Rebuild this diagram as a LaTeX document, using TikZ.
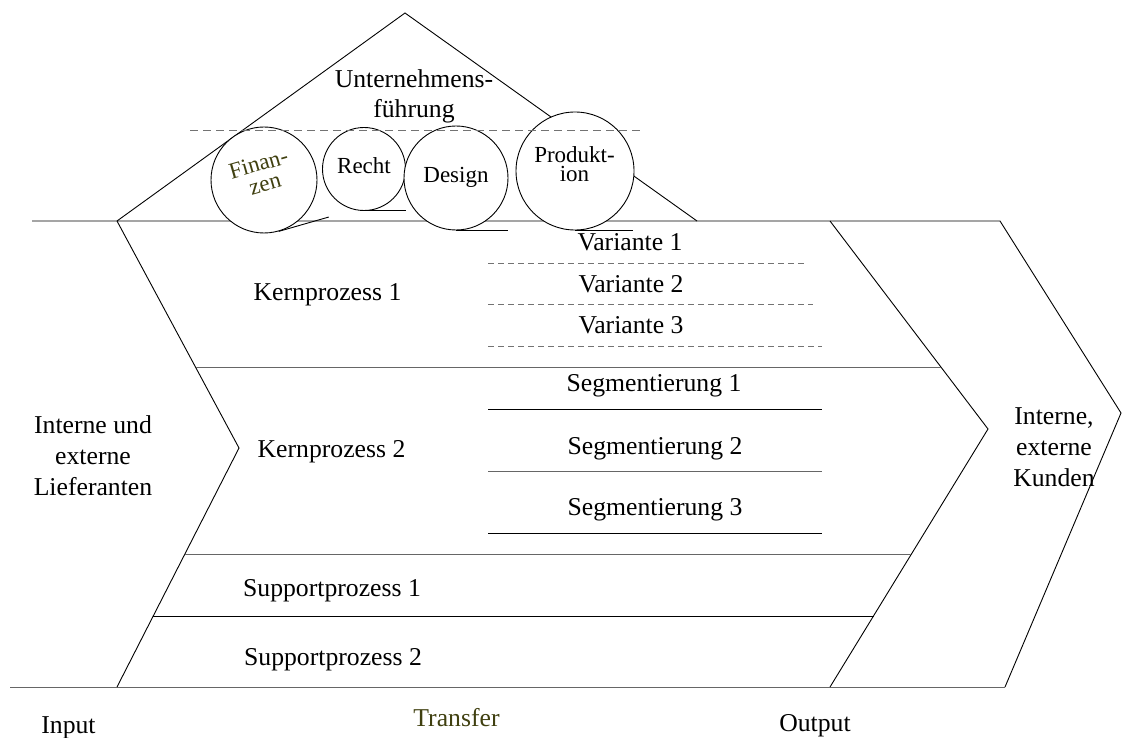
\documentclass[tikz,border=0pt]{standalone}
\usepackage{fontspec}
\setmainfont{Liberation Serif}
\definecolor{olivetext}{RGB}{64,64,16}
\begin{document}
\begin{tikzpicture}[x=1pt,y=-1pt,line width=0.9pt,
  one/.style={font=\fontsize{25.7}{31}\selectfont, inner sep=0pt, anchor=base},
  block/.style={font=\fontsize{25.7}{31}\selectfont, inner sep=0pt, align=center},
  cone/.style={font=\fontsize{23}{19}\selectfont, inner sep=0pt, anchor=base},
  cblock/.style={font=\fontsize{23}{19}\selectfont, inner sep=0pt, align=center},
  disc/.style={circle, draw, fill=white, inner sep=0pt, minimum size=#1},
  softrule/.style={draw=black!60},
  dashrule/.style={draw=black!55, line width=0.8pt, dash pattern=on 6pt off 4pt},
  roofdash/.style={draw=black!55, line width=0.8pt, dash pattern=on 8pt off 5pt},
]
\useasboundingbox (0,0) rectangle (1122,738);

% corner points of the frame
\coordinate (tl) at (32,221);
\coordinate (bl) at (10,687);
\coordinate (inTop) at (117,221);
\coordinate (inTip) at (239,448);
\coordinate (inBot) at (117,687);
\coordinate (roofTop) at (405,13);
\coordinate (roofR) at (697,221);
\coordinate (trTop) at (830,221);
\coordinate (trTip) at (988,429);
\coordinate (trBot) at (830,687);
\coordinate (outTop) at (1000,221);
\coordinate (outTip) at (1121,413);
\coordinate (outBot) at (1005,687);

% roof and chevrons
\draw (inTop) -- (roofTop) -- (roofR);
\draw (tl) -- (outTop) -- (outTip) -- (outBot);
\draw[softrule] (bl) -- (outBot);
\draw (inTop) -- (inTip) -- (inBot);
\draw (trTop) -- (trTip) -- (trBot);

% process rows
\draw[softrule] (195.5,367) -- (941,367);
\draw[softrule] (185,554) -- (911.4,554);
\draw (153.2,616) -- (873.5,616);

% variants
\draw[dashrule] (488,263) -- (807,263);
\draw[dashrule] (488,304) -- (813,304);
\draw[dashrule] (488,346) -- (822,346);

% segments
\draw (488,409) -- (822,409);
\draw[softrule] (488,471) -- (822,471);
\draw (488,533) -- (822,533);

% functions under the roof
\node[disc=106] (fin) at (264,180) {};
\node[disc=83] (rec) at (364,169) {};
\node[disc=104] (des) at (456,178) {};
\node[disc=118] (pro) at (575,171) {};
\draw (fin.-74) -- ++(-16:52);
\draw (rec.south) -- ++(42,0);
\draw (des.south) -- ++(52,0);
\draw (pro.south) -- ++(58,0);
\draw[roofdash] (190,130) -- (640,130);

\node[block, font=\fontsize{25.7}{30}\selectfont] (ceo) at (414,96) {Unternehmens-\\führung};
\node[cone, text=olivetext, rotate=16] (finA) at (260.5,171) {Finan-};
\node[cone, text=olivetext, rotate=16] (finB) at (267,191) {zen};
\node[cone] (recT) at (364,174) {Recht};
\node[cone] (desT) at (456,182.7) {Design};
\node[cblock] (proT) at (574.5,163.7) {Produkt-\\ion};

% row labels
\node[one] (k1) at (327.5,300) {Kernprozess 1};
\node[one] (k2) at (331.5,457) {Kernprozess 2};
\node[one] (v1) at (630,251) {Variante 1};
\node[one] (v2) at (631,292.7) {Variante 2};
\node[one] (v3) at (631,333.3) {Variante 3};
\node[one] (s1) at (654,391.7) {Segmentierung 1};
\node[one] (s2) at (655,454) {Segmentierung 2};
\node[one] (s3) at (655,515) {Segmentierung 3};
\node[one] (p1) at (332,596) {Supportprozess 1};
\node[one] (p2) at (333,665) {Supportprozess 2};

% sides and stages
\node[block] (sup) at (93,455.6) {Interne und\\externe\\Lieferanten};
\node[block] (cus) at (1054,447) {Interne,\\externe\\Kunden};
\node[one] (inp) at (68.5,733) {Input};
\node[one, text=olivetext] (tra) at (456.5,726) {Transfer};
\node[one] (outp) at (815,731) {Output};
\end{tikzpicture}
\end{document}
